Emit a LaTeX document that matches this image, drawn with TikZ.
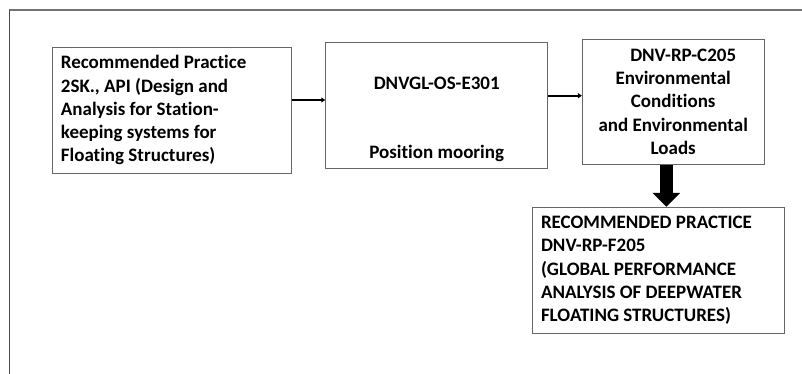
\documentclass[tikz,border=0pt]{standalone}
\usepackage{fontspec}
\setmainfont{Carlito}[Ligatures=NoCommon]
\usepackage{tikz}
\usetikzlibrary{arrows.meta, positioning, calc}

\begin{document}
\begin{tikzpicture}[
  x=1pt, y=-1pt,
  box/.style={rectangle, draw=black!60, line width=0.9pt, inner xsep=8.7pt, inner ysep=0pt,
    font=\fontsize{19}{23.3}\selectfont\bfseries},
  flow/.style={line width=2pt, -{Triangle[length=4pt, width=5pt]}},
  bigflow/.style={line width=12.5pt, -{Triangle[length=14pt, width=27pt]}},
  frame/.style={black!55, line width=1.5pt}
]
  \useasboundingbox (0,0) rectangle (802,374);

  % Frame
  \coordinate (fl) at (9,10);
  \coordinate (fr) at (802,10);
  \coordinate (fb) at (9,374);
  \draw[frame] (fr) -- (fl);
  \draw[black!70, line width=1pt] (fl) -- (fb);

  % Standards
  \node[box, align=flush left, text width=222pt, minimum height=125.3pt] (rp2sk) at (171.9,110.3)
    {Recommended Practice\\2SK., API (Design and\\Analysis for Station-\\keeping systems for\\Floating Structures)};
  \node[box, align=center, minimum width=222pt, minimum height=126pt] (e301) at (436.7,105.7)
    {\strut\\DNVGL-OS-E301\\[46pt]Position mooring};
  \node[box, align=center, minimum width=181.7pt, minimum height=125.3pt] (c205) at (673.2,101.7)
    {\hspace*{20pt}DNV-RP-C205\\Environmental\\Conditions\\and Environmental\\Loads};
  \node[box, align=flush left, text width=234.6pt, minimum height=126.4pt] (f205) at (658.3,270.5)
    {RECOMMENDED PRACTICE\\DNV-RP-F205\\(GLOBAL PERFORMANCE\\ANALYSIS OF DEEPWATER\\FLOATING STRUCTURES)};

  % Arrows
  \draw[flow] ([yshift=10.3pt]rp2sk.east) -- ([yshift=10.3pt]rp2sk.east -| e301.west);
  \draw[flow] ([yshift=10pt]e301.east) -- ([yshift=10pt]e301.east -| c205.west);
  \draw[bigflow] ([xshift=-6.9pt]c205.south) -- ([xshift=-6.9pt]c205.south |- f205.north);
\end{tikzpicture}
\end{document}
